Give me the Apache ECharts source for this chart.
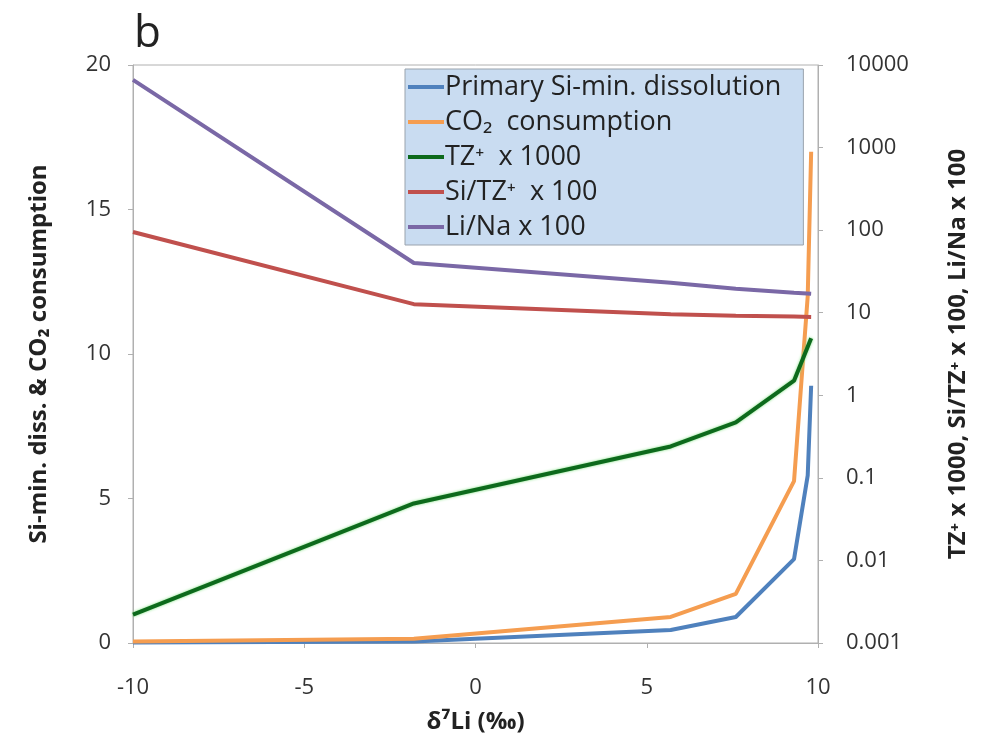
<!DOCTYPE html>
<html>
<head>
<meta charset="utf-8">
<script src="https://cdn.jsdelivr.net/npm/echarts@6/dist/echarts.min.js"></script>
<style>html,body{margin:0;padding:0;background:#fff;}#c{width:986px;height:749px;}</style>
</head>
<body>
<div id="c"></div>
<script>
const xPts = [-10, -1.8, 5.7, 7.6, 9.3, 9.7, 9.8];
const primarySi = [0.02, 0.05, 0.45, 0.9, 2.9, 5.8, 8.9];
const co2 = [0.05, 0.15, 0.9, 1.7, 5.6, 12, 17];
const tz1000 = [0.0022, 0.049, 0.24, 0.47, 1.5, null, 4.9];
const siTz100 = [95, 12.7, 9.6, 9.2, 9.0, null, 8.9];
const liNa100 = [6600, 40, 23, 19.5, 17.5, null, 17];
const leftTicks = [0, 5, 10, 15, 20];
const rightTicks = ['0.001', '0.01', '0.1', '1', '10', '100', '1000', '10000'];
const xTicks = [-10, -5, 0, 5, 10];
const seriesNames = ['Primary Si-min. dissolution', 'CO\u2082  consumption', 'TZ\u207A  x 1000', 'Si/TZ\u207A  x 100', 'Li/Na x 100'];

const pairs = (ys) => xPts.map((x, i) => [x, ys[i]]);
const font = 'Open Sans';
const axisCol = '#b0b0b0';
const chart = echarts.init(document.getElementById('c'));
chart.setOption({
  backgroundColor: '#ffffff',
  animation: false,
  textStyle: { fontFamily: font },
  grid: { left: 133, right: 168, top: 65, bottom: 106, show: true, borderColor: axisCol, borderWidth: 1 },
  graphic: [{ type: 'text', left: 134, top: 12, style: { text: 'b', fontSize: 44, fontFamily: font, fill: '#222' } }],
  legend: {
    orient: 'vertical', left: 405, top: 69, width: 400,
    padding: [3, 22, 3, 3], itemGap: 5, itemWidth: 36, itemHeight: 4,
    backgroundColor: '#c9dcf1', borderColor: '#9aa3ad', borderWidth: 1,
    icon: 'rect',
    textStyle: { fontSize: 27, lineHeight: 30, color: '#222', fontFamily: font, padding: [0, 0, 0, -4] },
    data: seriesNames
  },
  xAxis: {
    type: 'value', min: -10, max: 10, interval: 5,
    name: '\u03B4\u2077Li (\u2030)', nameLocation: 'middle', nameGap: 67,
    nameTextStyle: { fontSize: 24, fontWeight: 'bold', color: '#222', fontFamily: font },
    axisLine: { lineStyle: { color: axisCol, width: 1 } },
    axisTick: { show: true, length: 5, lineStyle: { color: axisCol } },
    axisLabel: { fontSize: 22, color: '#333', margin: 34, fontFamily: font },
    splitLine: { show: false }
  },
  yAxis: [{
    type: 'value', min: 0, max: 20, interval: 5,
    name: 'Si-min. diss. & CO\u2082 consumption', nameLocation: 'middle', nameGap: 82, nameRotate: 90,
    nameTextStyle: { fontSize: 24, fontWeight: 'bold', color: '#222', fontFamily: font },
    axisLine: { show: true, onZero: false, lineStyle: { color: axisCol } },
    axisTick: { show: true, length: 5, lineStyle: { color: axisCol } },
    axisLabel: { fontSize: 22, color: '#333', margin: 22, fontFamily: font },
    splitLine: { show: false }
  }, {
    type: 'log', logBase: 10, min: 0.001, max: 10000, position: 'right',
    name: 'TZ\u207A x 1000, Si/TZ\u207A x 100, Li/Na x 100', nameLocation: 'middle', nameGap: 128, nameRotate: 90,
    nameTextStyle: { fontSize: 24, fontWeight: 'bold', color: '#222', fontFamily: font },
    axisLine: { show: true, onZero: false, lineStyle: { color: axisCol } },
    axisTick: { show: true, length: 5, lineStyle: { color: axisCol } },
    axisLabel: { fontSize: 22, color: '#333', margin: 28, fontFamily: font,
      formatter: (v) => { const s = rightTicks.find(t => Math.abs(parseFloat(t) - v) / v < 1e-6); return s || String(v); } },
    splitLine: { show: false }
  }],
  series: [
    { name: seriesNames[0], type: 'line', yAxisIndex: 0, data: pairs(primarySi), showSymbol: false, color: '#4f81bd', lineStyle: { width: 4 } },
    { name: seriesNames[1], type: 'line', yAxisIndex: 0, data: pairs(co2), showSymbol: false, color: '#f59d50', lineStyle: { width: 4 } },
    { name: seriesNames[2], type: 'line', yAxisIndex: 1, data: pairs(tz1000), showSymbol: false, connectNulls: true, color: '#0d6a1c', lineStyle: { width: 4, shadowColor: '#7ee07e', shadowBlur: 3 } },
    { name: seriesNames[3], type: 'line', yAxisIndex: 1, data: pairs(siTz100), showSymbol: false, connectNulls: true, color: '#c0504d', lineStyle: { width: 4 } },
    { name: seriesNames[4], type: 'line', yAxisIndex: 1, data: pairs(liNa100), showSymbol: false, connectNulls: true, color: '#7a68a6', lineStyle: { width: 4 } }
  ]
});
</script>
</body>
</html>
